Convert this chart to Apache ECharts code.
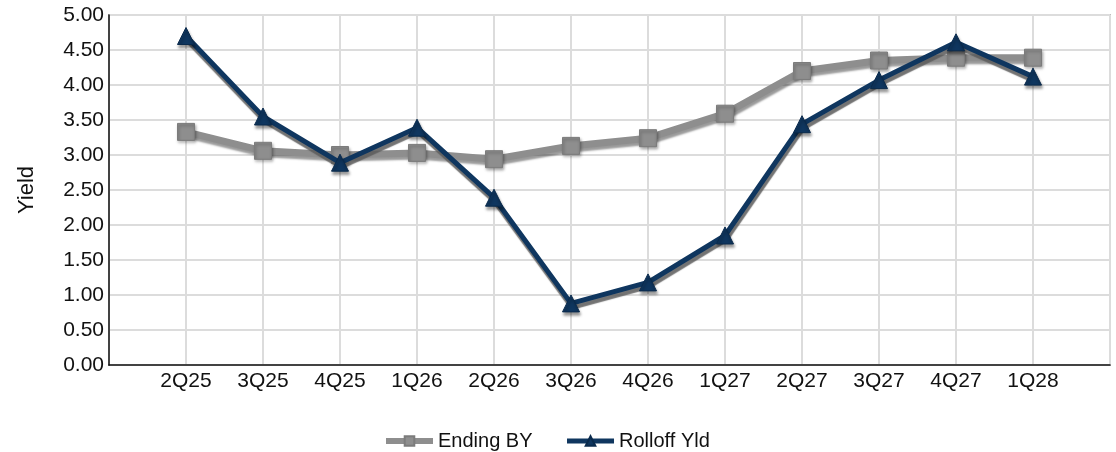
<!DOCTYPE html>
<html>
<head>
<meta charset="utf-8">
<script src="https://cdn.jsdelivr.net/npm/echarts@6/dist/echarts.min.js"></script>
<style>
html,body{margin:0;padding:0;background:#fff;}
#chart{width:1116px;height:452px;}
</style>
</head>
<body>
<div id="chart"></div>
<script>
var categories = ['2Q25','3Q25','4Q25','1Q26','2Q26','3Q26','4Q26','1Q27','2Q27','3Q27','4Q27','1Q28'];
var endingBY = [3.33, 3.06, 3.00, 3.03, 2.94, 3.13, 3.24, 3.59, 4.20, 4.35, 4.39, 4.39];
var rolloffYld = [4.70, 3.55, 2.89, 3.39, 2.39, 0.88, 1.18, 1.85, 3.44, 4.07, 4.61, 4.12];
var yTicks = {min: 0, max: 5, interval: 0.5};

var axisCats = [''].concat(categories).concat(['']);
function pad(arr){ return [null].concat(arr).concat([null]); }

var FONT = 'Liberation Sans, Arial, sans-serif';
var chart = echarts.init(document.getElementById('chart'), null, {renderer:'canvas'});
chart.setOption({
  animation: false,
  backgroundColor: '#ffffff',
  grid: {left: 109, right: 6, top: 15, bottom: 87, show: true, borderColor: '#8a8a8a', borderWidth: 1.5, containLabel: false},
  xAxis: {
    type: 'category',
    data: axisCats,
    boundaryGap: false,
    axisLine: {show: true, lineStyle: {color: '#111', width: 1.5}},
    axisTick: {show: false},
    axisLabel: {color: '#111', fontFamily: FONT, fontSize: 21, margin: 6, interval: 0},
    splitLine: {show: true, lineStyle: {color: '#dcdcdc', width: 2}}
  },
  yAxis: {
    type: 'value',
    min: yTicks.min, max: yTicks.max, interval: yTicks.interval,
    name: 'Yield',
    nameLocation: 'middle',
    nameGap: 71,
    nameTextStyle: {color: '#111', fontFamily: FONT, fontSize: 22},
    axisLine: {show: true, lineStyle: {color: '#111', width: 1.5}},
    axisTick: {show: false},
    axisLabel: {color: '#111', fontFamily: FONT, fontSize: 21, margin: 5, formatter: function(v){return v.toFixed(2);}},
    splitLine: {show: true, lineStyle: {color: '#dcdcdc', width: 2}}
  },
  legend: {
    top: 426,
    left: 378,
    itemWidth: 47,
    itemHeight: 12,
    itemGap: 32,
    textStyle: {color: '#111', fontFamily: FONT, fontSize: 20},
    data: [
      {name: 'Ending BY', lineStyle: {width: 6, color: '#8e8e8e'}},
      {name: 'Rolloff Yld', lineStyle: {width: 5, color: '#0f365f'}}
    ]
  },
  series: [
    {
      name: 'Ending BY',
      type: 'line',
      data: pad(endingBY),
      z: 2,
      symbol: 'rect',
      symbolSize: 17,
      showAllSymbol: true,
      itemStyle: {color: '#8e8e8e', borderColor: '#7c7c7c', borderWidth: 1, shadowColor: 'rgba(0,0,0,0.35)', shadowBlur: 3, shadowOffsetX: 1, shadowOffsetY: 2},
      lineStyle: {color: '#8e8e8e', width: 7, shadowColor: 'rgba(0,0,0,0.4)', shadowBlur: 2, shadowOffsetX: 1, shadowOffsetY: 3}
    },
    {
      name: 'Rolloff Yld',
      type: 'line',
      data: pad(rolloffYld),
      z: 3,
      symbol: 'triangle',
      symbolSize: 17,
      showAllSymbol: true,
      itemStyle: {color: '#0f365f', borderColor: '#0a2a4c', borderWidth: 1, shadowColor: 'rgba(0,0,0,0.4)', shadowBlur: 3, shadowOffsetX: 1, shadowOffsetY: 3},
      lineStyle: {color: '#0f365f', width: 5, shadowColor: 'rgba(90,90,90,0.85)', shadowBlur: 1, shadowOffsetX: 1, shadowOffsetY: 4}
    }
  ]
});
</script>
</body>
</html>
